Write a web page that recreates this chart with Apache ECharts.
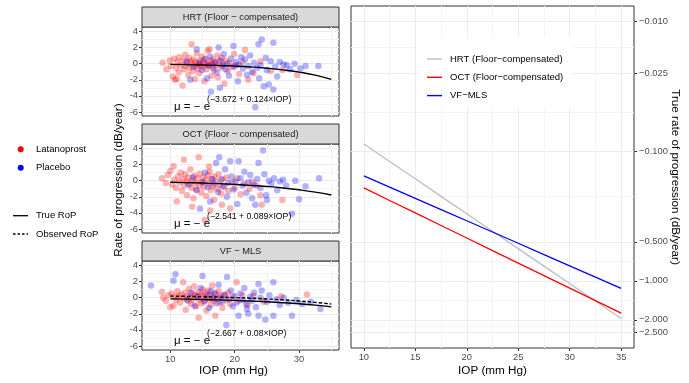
<!DOCTYPE html>
<html>
<head>
<meta charset="utf-8">
<script src="https://cdn.jsdelivr.net/npm/echarts@6/dist/echarts.min.js"></script>
<style>
  html, body { margin: 0; padding: 0; background: #fff; }
  #chart { width: 689px; height: 383px; }
</style>
</head>
<body>
<div id="chart"></div>
<script>
const FONT = '"Liberation Sans", Arial, Helvetica, sans-serif';

// IOP values at which the fitted curves were read
const curveIop = [10, 12.5, 15, 17.5, 20, 22.5, 25, 27.5, 30, 32.5, 35];
// true rate of progression (dB/year) per test
const hrtTrue = [-0.088, -0.120, -0.163, -0.223, -0.304, -0.414, -0.564, -0.770, -1.049, -1.431, -1.950];
const octTrue = [-0.192, -0.240, -0.299, -0.374, -0.467, -0.584, -0.729, -0.911, -1.138, -1.421, -1.775];
const vfTrue = [-0.155, -0.189, -0.231, -0.282, -0.344, -0.420, -0.513, -0.627, -0.766, -0.935, -1.142];
// observed RoP (VF only, dashed)
const vfObserved = [0.195, 0.161, 0.119, 0.068, 0.006, -0.070, -0.163, -0.277, -0.416, -0.585, -0.792];

const panelNames = ['HRT (Floor − compensated)', 'OCT (Floor − compensated)', 'VF − MLS'];
const lineNames = ['HRT (Floor−compensated)', 'OCT (Floor−compensated)', 'VF−MLS'];
const exponents = ['(−3.672 + 0.124×IOP)', '(−2.541 + 0.089×IOP)', '(−2.667 + 0.08×IOP)'];

const leftYTicks = [-6, -4, -2, 0, 2, 4];
const leftYMinor = [-5, -3, -1, 1, 3];
const leftXTicks = [10, 20, 30];
const leftXMinor = [15, 25, 35];
const rightXTicks = [10, 15, 20, 25, 30, 35];
const rightXMinor = [12.5, 17.5, 22.5, 27.5, 32.5];
const rightYBreaks = [0.010, 0.025, 0.100, 0.500, 1.000, 2.000, 2.500];

// points [IOP, rate]
const hrtLat = [
  [8.8,0.1],[9.4,-0.7],[9.9,0.4],[10.1,-0.3],[10.4,-1.6],[10.7,-2.0],[10.6,0.6],[10.9,-0.5],
  [11.0,-1.9],[11.1,0.2],[11.3,-1.1],[11.4,0.8],[11.6,-0.2],[11.9,-2.7],[12.0,0.4],[12.1,-0.7],
  [12.3,1.1],[12.4,-0.3],[12.6,0.1],[12.8,-1.4],[12.9,0.7],[13.0,-0.5],[13.2,0.3],[13.3,2.4],
  [13.4,-0.1],[13.5,-0.9],[13.6,0.5],[13.8,-1.9],[13.9,0.2],[14.0,-0.3],[14.1,1.3],[14.2,-0.6],
  [14.4,0.0],[14.5,-1.2],[14.6,0.4],[14.7,-0.2],[14.9,0.9],[15.0,-0.4],[15.1,0.2],[15.3,-2.2],
  [15.4,-0.1],[15.5,0.6],[15.6,-0.7],[15.8,1.6],[15.9,0.0],[16.0,-0.3],[16.1,1.8],[16.3,0.3],
  [16.4,-1.5],[16.5,-0.1],[16.6,0.5],[16.8,-0.8],[16.9,0.1],[17.1,-0.2],[17.3,1.0],[17.4,-1.7],
  [17.6,0.3],[17.8,-0.5],[18.0,0.7],[18.2,-0.1],[18.4,-2.5],[18.6,0.4],[18.9,-0.9],[19.2,0.1],
  [19.5,-0.4],[19.9,1.2],[20.2,-0.2],[20.7,-1.3],[21.2,0.2],[21.6,1.7],[22.1,-2.0],[22.9,-1.2],
  [24.0,0.3],[25.6,-0.9],[27.4,-0.8],[29.7,-1.4]
];
const hrtPla = [
  [12.5,0.3],[13.1,-2.0],[13.6,-0.4],[14.1,1.8],[14.5,0.1],[14.9,-0.8],[15.3,0.5],[15.7,-1.8],
  [15.9,-0.2],[16.2,0.9],[16.3,-3.5],[16.6,-0.5],[16.9,0.2],[17.2,-1.1],[17.5,2.0],[17.7,-3.0],
  [17.8,0.4],[18.1,-0.3],[18.3,1.2],[18.6,-0.7],[18.8,0.0],[19.1,-1.5],[19.4,0.6],[19.8,2.2],
  [19.9,-0.4],[20.2,0.2],[20.5,-2.2],[20.7,-0.1],[21.0,0.8],[21.3,-0.6],[21.6,0.5],[21.9,-1.4],
  [22.1,-0.3],[22.4,1.0],[22.7,-1.0],[23.0,0.1],[23.2,-5.4],[23.5,-0.5],[23.7,2.4],[23.8,-1.8],
  [24.0,-0.2],[24.2,3.0],[24.5,-2.8],[24.8,0.7],[25.0,-0.8],[25.3,-2.6],[25.6,0.3],[26.0,2.6],
  [26.0,-3.2],[26.3,-0.4],[26.6,-1.6],[27.0,0.2],[27.6,-0.1],[28.1,-0.2],[28.6,-0.7],[29.3,0.0],
  [30.2,-0.6],[31.0,-0.3],[33.0,-0.3]
];
const octLat = [
  [8.7,0.3],[9.3,-0.3],[9.6,0.7],[10.0,1.2],[10.3,-0.5],[10.5,1.8],[10.6,0.1],[10.9,-0.9],
  [11.0,-2.6],[11.2,0.5],[11.4,-0.2],[11.6,1.0],[11.8,-1.3],[12.0,0.2],[12.1,2.6],[12.1,-0.6],
  [12.3,0.8],[12.5,-0.1],[12.6,-1.8],[12.8,0.4],[13.0,-0.4],[13.1,1.4],[13.3,-0.9],[13.4,-3.25],
  [13.4,0.0],[13.6,-2.2],[13.7,0.6],[13.9,-0.3],[14.0,-1.1],[14.2,0.3],[14.4,2.9],[14.5,-0.6],
  [14.6,0.9],[14.8,-1.5],[14.9,-0.2],[15.1,0.4],[15.2,-0.8],[15.4,-4.9],[15.5,0.1],[15.6,-1.9],
  [15.8,0.7],[16.0,1.75],[16.0,-0.4],[16.1,1.1],[16.2,-3.7],[16.3,-1.2],[16.4,0.2],[16.6,-0.7],
  [16.8,-2.4],[16.9,0.5],[17.1,-0.1],[17.3,-1.0],[17.5,0.8],[17.7,-0.5],[17.9,-1.6],[18.0,-3.0],
  [18.1,0.2],[18.4,-0.8],[18.7,0.4],[19.0,-1.3],[19.3,-3.45],[19.6,-0.2],[20.0,-0.9],[20.4,0.3],
  [20.9,-1.7],[21.5,-0.4],[22.3,-1.0],[22.7,-0.1],[23.4,-0.6],[24.0,-1.8],[24.2,-3.0],[27.4,-2.4]
];
const octPla = [
  [12.8,-0.5],[13.5,0.4],[14.1,-1.2],[14.6,-3.5],[15.0,-0.2],[15.4,1.0],[15.8,-0.8],[16.2,-2.6],
  [16.5,0.2],[16.8,-0.4],[17.1,2.2],[17.4,-1.4],[17.6,2.9],[17.9,0.1],[18.2,-0.7],[18.5,1.4],
  [18.8,-2.0],[19.0,-0.3],[19.3,2.4],[19.5,0.5],[19.8,-1.1],[20.1,-0.1],[20.4,-2.9],[20.6,2.4],
  [20.9,0.3],[21.2,-0.6],[21.5,1.1],[21.8,-1.5],[22.1,-0.2],[22.4,0.7],[22.7,-2.2],[23.0,-0.5],
  [23.2,-3.0],[23.5,0.2],[23.7,2.2],[24.0,-0.9],[24.4,3.75],[24.6,0.8],[24.9,-1.8],[25.0,-2.4],
  [25.3,0.0],[25.7,-0.4],[26.1,0.3],[26.6,-1.2],[27.0,-0.1],[27.5,0.1],[28.0,-0.6],[28.9,-4.1],
  [29.4,0.0],[30.0,-2.3],[31.0,-0.7],[33.1,0.3]
];
const vfLat = [
  [8.7,0.7],[8.9,0.0],[9.3,-0.4],[9.7,0.3],[10.0,-1.2],[10.2,0.5],[10.5,-1.0],[10.6,0.1],
  [10.9,-0.3],[11.1,0.8],[11.3,0.2],[11.5,-0.6],[11.7,0.4],[12.0,1.9],[12.1,-0.1],[12.3,0.6],
  [12.4,-1.5],[12.6,0.2],[12.8,-0.4],[12.9,1.1],[13.1,0.0],[13.2,-0.8],[13.4,0.5],[13.5,-0.2],
  [13.7,1.4],[13.8,0.3],[14.0,-1.1],[14.1,0.1],[14.3,0.7],[14.4,-2.5],[14.5,-0.3],[14.7,0.4],
  [14.8,-0.7],[15.0,1.0],[15.1,0.2],[15.3,-0.5],[15.4,0.6],[15.6,-1.6],[15.7,0.0],[15.9,0.9],
  [16.0,-0.2],[16.2,0.4],[16.3,-0.9],[16.5,1.5],[16.6,0.1],[16.8,-0.4],[17.0,-2.25],[17.1,0.5],
  [17.3,-0.1],[17.5,0.8],[17.7,-0.6],[17.9,0.2],[18.1,-1.3],[18.4,0.3],[18.7,-0.3],[19.0,0.6],
  [19.3,-0.8],[19.7,0.1],[20.3,1.9],[20.6,-0.4],[21.2,0.3],[22.0,-0.9],[22.9,0.25],[24.5,-0.5],
  [27.2,0.16],[31.2,0.4]
];
const vfPla = [
  [7.0,1.5],[10.5,2.1],[10.8,2.9],[12.6,-0.3],[13.2,0.6],[13.8,-1.0],[14.3,0.2],[14.7,1.2],
  [15.0,2.7],[15.3,-0.4],[15.7,0.3],[16.0,-1.3],[16.3,0.8],[16.6,-0.1],[16.9,0.5],[17.2,-0.7],
  [17.5,1.6],[17.8,0.0],[18.1,-0.5],[18.4,0.4],[18.8,2.55],[18.7,-3.4],[19.1,-0.2],[19.4,0.9],
  [19.7,-1.1],[20.0,0.2],[20.3,-0.6],[20.6,-2.25],[20.9,0.5],[21.2,-0.3],[21.5,1.2],[21.8,-0.8],
  [21.9,-1.4],[22.1,-2.0],[22.4,0.1],[22.7,-0.4],[23.0,0.6],[23.3,-1.2],[23.7,1.7],[23.7,-2.25],
  [24.0,0.0],[24.2,0.9],[24.75,-2.7],[25.0,-0.5],[25.4,0.3],[26.0,1.9],[26.0,-2.25],[26.5,-0.2],
  [27.0,-0.9],[27.6,0.0],[28.3,-0.6],[28.9,-2.25],[29.6,-0.3],[30.5,-0.8],[31.8,-0.5],[33.3,-1.4]
];

const latPoints = [hrtLat, octLat, vfLat];
const plaPoints = [hrtPla, octPla, vfPla];
const truePoints = [hrtTrue, octTrue, vfTrue];
const lineColors = ['#BEBEBE', '#FF0000', '#0000FF'];

// layout (px)
const L = { left: 142, width: 197, height: 89, tops: [27, 144, 261], strip: 20 };
const R = { left: 351, top: 6, width: 283, height: 342 };

const labelStyle = { color: '#4D4D4D', fontSize: 9.4, fontFamily: FONT };
const tickStyle = { length: 3, lineStyle: { color: '#333333', width: 1 } };
const majorGrid = { show: true, lineStyle: { color: '#EBEBEB', width: 1 } };
const minorGrid = { show: true, lineStyle: { color: '#F4F4F4', width: 1 } };
const noLine = { show: false, onZero: false };

const grids = [];
const xAxes = [];
const yAxes = [];
const series = [];
const graphics = [];

// left facets + right panel
for (let i = 0; i < 3; i++) {
  grids.push({
    left: L.left, top: L.tops[i], width: L.width, height: L.height,
    show: true, borderColor: '#333333', borderWidth: 1, backgroundColor: '#fff',
    outerBoundsMode: 'none'
  });
}
grids.push({
  left: R.left, top: R.top, width: R.width, height: R.height,
  show: true, borderColor: '#333333', borderWidth: 1, backgroundColor: '#fff',
  outerBoundsMode: 'none'
});

for (let i = 0; i < 3; i++) {
  const bottom = i === 2;
  xAxes.push({
    type: 'value', gridIndex: i, min: 5.6, max: 36.2, position: 'bottom',
    axisLine: noLine,
    axisTick: Object.assign({ show: bottom, customValues: leftXTicks }, tickStyle),
    axisLabel: Object.assign({ show: bottom, customValues: leftXTicks, margin: 5 }, labelStyle),
    splitLine: majorGrid,
    name: bottom ? 'IOP (mm Hg)' : '',
    nameLocation: 'middle', nameGap: 15, nameMoveOverlap: false,
    nameTextStyle: { color: '#000', fontSize: 11.7, fontFamily: FONT, padding: [0, 14, 0, 0] }
  });
  yAxes.push({
    type: 'value', gridIndex: i, min: -6.5, max: 4.55, position: 'left',
    axisLine: noLine,
    axisTick: Object.assign({ show: true, customValues: leftYTicks }, tickStyle),
    axisLabel: Object.assign({ show: true, customValues: leftYTicks, margin: 4 }, labelStyle),
    splitLine: majorGrid
  });
}
xAxes.push({
  type: 'value', gridIndex: 3, min: 8.75, max: 36.25, position: 'bottom',
  axisLine: noLine,
  axisTick: Object.assign({ show: true, customValues: rightXTicks }, tickStyle),
  axisLabel: Object.assign({ show: true, customValues: rightXTicks, margin: 5 }, labelStyle),
  splitLine: majorGrid,
  name: 'IOP (mm Hg)', nameLocation: 'middle', nameGap: 17, nameMoveOverlap: false,
  nameTextStyle: { color: '#000', fontSize: 11.7, fontFamily: FONT }
});
const rightYMajor = rightYBreaks.map(v => Math.log10(v));
const rightYMinor = [];
for (let i = 0; i < rightYMajor.length - 1; i++) {
  rightYMinor.push((rightYMajor[i] + rightYMajor[i + 1]) / 2);
}
yAxes.push({
  type: 'value', gridIndex: 3, position: 'right', inverse: true,
  min: -2.1199, max: 0.5178,
  axisLine: noLine,
  axisTick: Object.assign({ show: true, customValues: rightYMajor }, tickStyle),
  axisLabel: Object.assign({
    show: true, customValues: rightYMajor, margin: 5,
    formatter: v => '−' + Math.pow(10, v).toFixed(3)
  }, labelStyle),
  splitLine: majorGrid,
  name: 'True rate of progression (dB/year)', nameLocation: 'middle', nameRotate: -90,
  nameGap: 35, nameMoveOverlap: false,
  nameTextStyle: { color: '#000', fontSize: 11.7, fontFamily: FONT }
});

// minor grid axes (index 4..7)
for (let i = 0; i < 3; i++) {
  xAxes.push({
    type: 'value', gridIndex: i, min: 5.6, max: 36.2, position: 'bottom',
    axisLine: noLine, axisLabel: { show: false },
    axisTick: { show: false, customValues: leftXMinor }, splitLine: minorGrid
  });
  yAxes.push({
    type: 'value', gridIndex: i, min: -6.5, max: 4.55, position: 'left',
    axisLine: noLine, axisLabel: { show: false },
    axisTick: { show: false, customValues: leftYMinor }, splitLine: minorGrid
  });
}
xAxes.push({
  type: 'value', gridIndex: 3, min: 8.75, max: 36.25, position: 'bottom',
  axisLine: noLine, axisLabel: { show: false },
  axisTick: { show: false, customValues: rightXMinor }, splitLine: minorGrid
});
yAxes.push({
  type: 'value', gridIndex: 3, inverse: true, min: -2.1199, max: 0.5178, position: 'right',
  axisLine: noLine, axisLabel: { show: false },
  axisTick: { show: false, customValues: rightYMinor }, splitLine: minorGrid
});

// scatter + curves
for (let i = 0; i < 3; i++) {
  series.push({
    name: 'Latanoprost', type: 'scatter', xAxisIndex: i, yAxisIndex: i,
    data: latPoints[i], symbolSize: 6.5, silent: true,
    itemStyle: { color: '#FF0000', opacity: 0.3 }
  });
  series.push({
    name: 'Placebo', type: 'scatter', xAxisIndex: i, yAxisIndex: i,
    data: plaPoints[i], symbolSize: 6.5, silent: true,
    itemStyle: { color: '#0000FF', opacity: 0.3 }
  });
}
for (let i = 0; i < 3; i++) {
  series.push({
    name: 'True RoP', type: 'line', xAxisIndex: i, yAxisIndex: i,
    data: curveIop.map((x, k) => [x, truePoints[i][k]]),
    showSymbol: false, symbol: 'none', smooth: true, silent: true, z: 5,
    lineStyle: { color: '#000', width: 1.4 }
  });
}
series.push({
  name: 'Observed RoP', type: 'line', xAxisIndex: 2, yAxisIndex: 2,
  data: curveIop.map((x, k) => [x, vfObserved[k]]),
  showSymbol: false, symbol: 'none', smooth: true, silent: true, z: 5,
  lineStyle: { color: '#000', width: 1.4, type: [3.5, 2] }
});
for (let i = 0; i < 3; i++) {
  series.push({
    name: lineNames[i], type: 'line', xAxisIndex: 3, yAxisIndex: 3,
    data: curveIop.map((x, k) => [x, Math.log10(-truePoints[i][k])]),
    showSymbol: false, symbol: 'none', silent: true,
    color: lineColors[i],
    itemStyle: { color: lineColors[i] },
    lineStyle: { color: lineColors[i], width: 1.3 }
  });
}

// strips and formula labels
for (let i = 0; i < 3; i++) {
  graphics.push({
    type: 'rect', silent: true,
    shape: { x: L.left, y: L.tops[i] - L.strip, width: L.width, height: L.strip },
    style: { fill: '#D9D9D9', stroke: '#333333', lineWidth: 1 }
  });
  graphics.push({
    type: 'text', silent: true, x: L.left + L.width / 2, y: L.tops[i] - L.strip / 2,
    style: { text: panelNames[i], align: 'center', verticalAlign: 'middle',
      fill: '#1A1A1A', font: '9.3px ' + FONT }
  });
  graphics.push({
    type: 'text', silent: true, x: 174, y: L.tops[i] + 80, z: 10,
    style: { text: 'μ = − e', align: 'left', verticalAlign: 'middle',
      fill: '#000', font: '11.5px ' + FONT }
  });
  graphics.push({
    type: 'text', silent: true, x: 207, y: L.tops[i] + 72.5, z: 10,
    style: { text: exponents[i], align: 'left', verticalAlign: 'middle',
      fill: '#000', font: '8.7px ' + FONT }
  });
}

// left y axis title
graphics.push({
  type: 'text', silent: true, x: 119, y: 180, rotation: Math.PI / 2,
  style: { text: 'Rate of progression (dB/year)', align: 'center', verticalAlign: 'middle',
    fill: '#000', font: '11.7px ' + FONT }
});

// left legend
const legendRows = [
  { label: 'Latanoprost', y: 149.3, dot: '#FF0000' },
  { label: 'Placebo', y: 167.7, dot: '#0000FF' },
  { label: 'True RoP', y: 215.7, dash: null },
  { label: 'Observed RoP', y: 234, dash: [2.5, 2] }
];
legendRows.forEach(row => {
  if (row.dot) {
    graphics.push({ type: 'circle', silent: true, shape: { cx: 20.7, cy: row.y, r: 3 },
      style: { fill: row.dot } });
  } else {
    graphics.push({ type: 'line', silent: true,
      shape: { x1: 13, y1: row.y, x2: 28, y2: row.y },
      style: { stroke: '#000', lineWidth: 1.3, lineDash: row.dash } });
  }
  graphics.push({ type: 'text', silent: true, x: 36, y: row.y,
    style: { text: row.label, align: 'left', verticalAlign: 'middle',
      fill: '#000', font: '9.5px ' + FONT } });
});

const chart = echarts.init(document.getElementById('chart'), null, { renderer: 'canvas' });
chart.setOption({
  animation: false,
  backgroundColor: '#fff',
  textStyle: { fontFamily: FONT },
  grid: grids,
  xAxis: xAxes,
  yAxis: yAxes,
  legend: {
    data: lineNames,
    orient: 'vertical', left: 417, top: 38,
    padding: [15, 9, 6, 10],
    backgroundColor: '#fff',
    icon: 'rect', itemWidth: 15, itemHeight: 1.4, itemGap: 6.3,
    selectedMode: false,
    textStyle: { color: '#000', fontSize: 9.5, fontFamily: FONT, lineHeight: 12, padding: [0, 0, 0, 3] }
  },
  series: series,
  graphic: graphics
});
</script>
</body>
</html>
